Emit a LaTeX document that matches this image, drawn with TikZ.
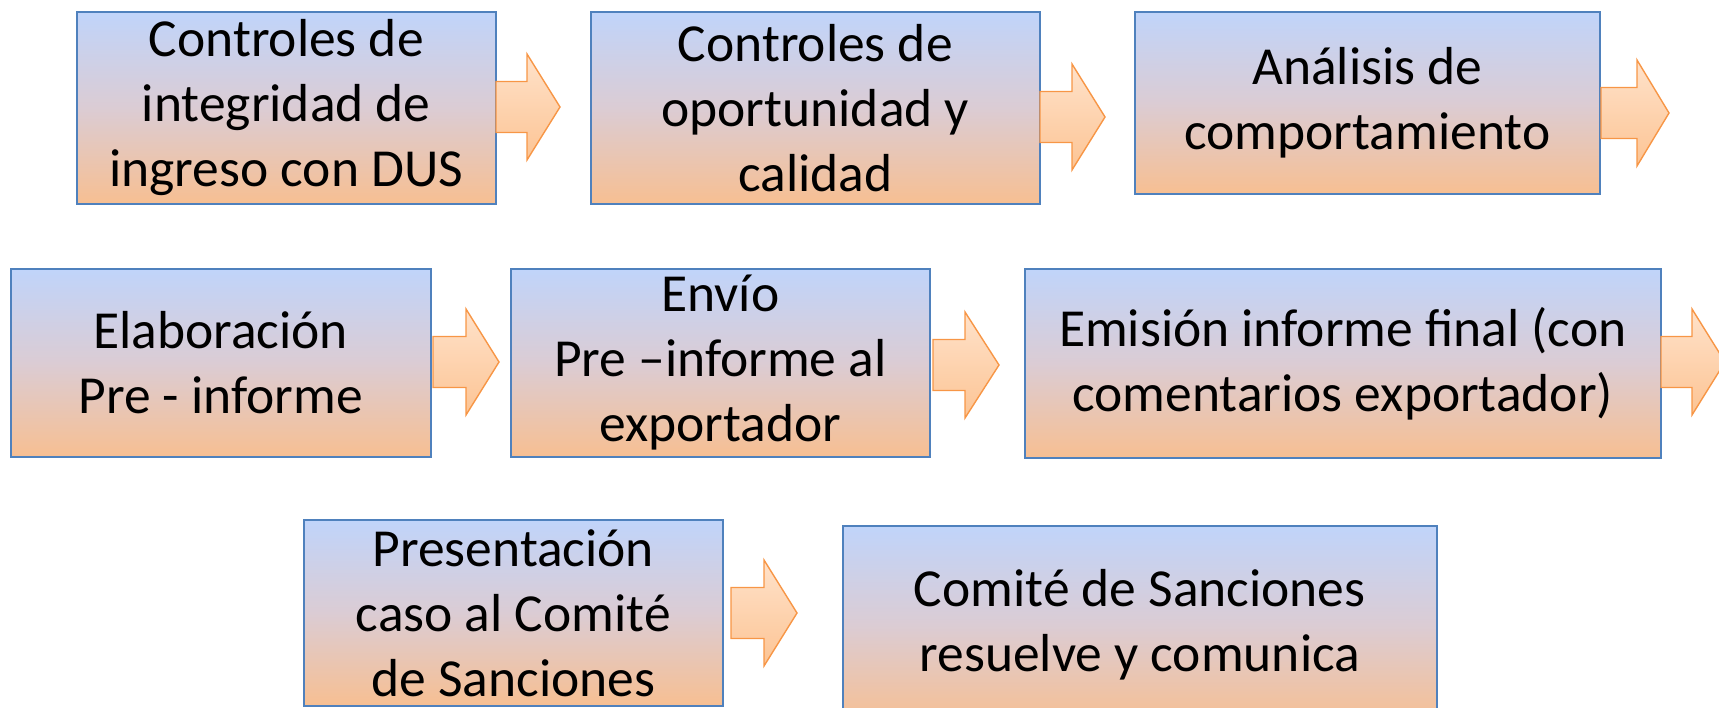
\documentclass[tikz,border=0pt]{standalone}
\usepackage{fontspec}
\setmainfont{Carlito}
\definecolor{boxtop}{RGB}{192,212,250}
\definecolor{boxmid}{RGB}{219,204,212}
\definecolor{boxbot}{RGB}{247,191,146}
\definecolor{boxline}{RGB}{79,129,189}
\definecolor{arrtop}{RGB}{255,226,202}
\definecolor{arrbot}{RGB}{252,196,148}
\definecolor{arrline}{RGB}{247,150,70}
\tikzset{
  stepbox/.style={draw=boxline, line width=1.6pt, top color=boxtop, bottom color=boxbot, middle color=boxmid,
    anchor=north west, align=center, inner sep=0pt,
    font=\fontsize{53.5}{65}\selectfont},
  blockarr/.style={draw=arrline, line width=1.4pt, top color=arrtop, bottom color=arrbot, line join=miter}
}
% #1 start x, #2 head start x, #3 tip x, #4 mid y
\newcommand{\blkarrow}[4]{%
  \path[blockarr] (#1,#4-25.5) -- (#2,#4-25.5) -- (#2,#4-53) -- (#3,#4) -- (#2,#4+53) -- (#2,#4+25.5) -- (#1,#4+25.5) -- cycle;}
\begin{document}
\begin{tikzpicture}[x=1pt,y=-1pt]
\useasboundingbox (0,0) rectangle (1719,708);
\clip (0,0) rectangle (1719,708);
% row 1
\node[stepbox, minimum width=419pt, minimum height=192pt] (b1) at (76,11) {Controles de\\integridad de\\ingreso con DUS};
\node[stepbox, minimum width=449pt, minimum height=192pt] (b2) at (590,11) {Controles de\\oportunidad y\\calidad};
\node[stepbox, minimum width=465pt, minimum height=182pt] (b3) at (1134,11) {Análisis de\\comportamiento};
% row 2
\node[stepbox, minimum width=420pt, minimum height=188pt] (b4) at (10,268) {Elaboración\\Pre - informe};
\node[stepbox, minimum width=419pt, minimum height=188pt] (b5) at (510,268) {Envío\\Pre –informe al\\exportador};
\node[stepbox, minimum width=636pt, minimum height=189pt] (b6) at (1024,268) {Emisión informe final (con\\comentarios exportador)};
% row 3
\node[stepbox, minimum width=419pt, minimum height=186pt] (b7) at (303,519) {Presentación\\caso al Comité\\de Sanciones};
\node[stepbox, minimum width=594pt, minimum height=198pt] (b8) at (842,525) {Comité de Sanciones\\resuelve y comunica};
% block arrows
\blkarrow{496}{527}{560}{107}
\blkarrow{1040}{1072}{1105}{117}
\blkarrow{1601}{1637}{1669}{113}
\blkarrow{433}{466}{499}{362}
\blkarrow{933}{965}{999}{365}
\blkarrow{1661}{1692}{1725}{362}
\blkarrow{731}{764}{797}{613}
\end{tikzpicture}
\end{document}
